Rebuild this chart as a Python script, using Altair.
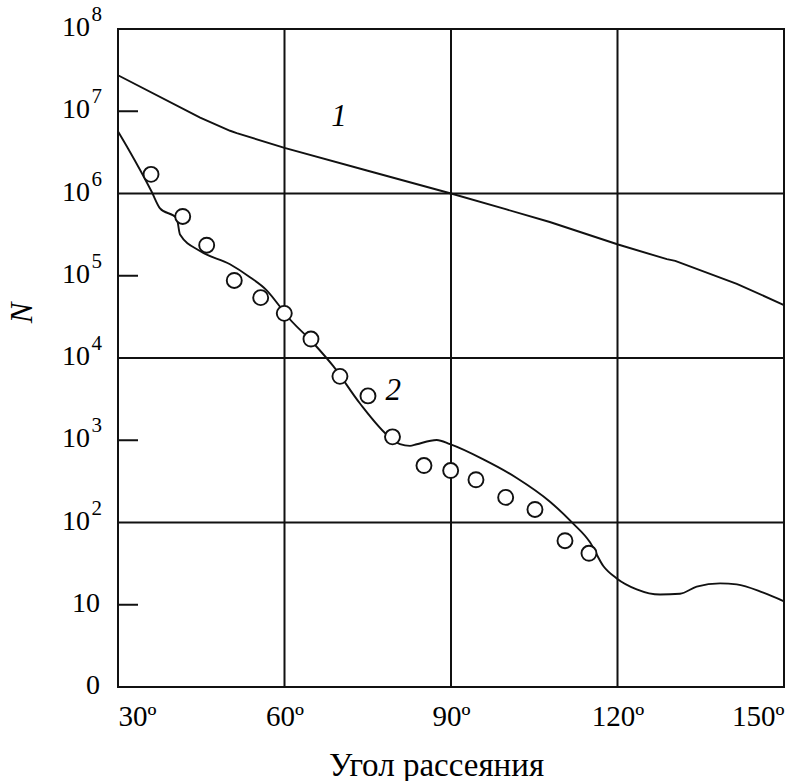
import altair as alt
import pandas as pd

FONT = "Liberation Serif, Times New Roman, serif"
INK = "#111111"

# Curve 1
c1_deg = [30.0, 44.8, 50.2, 51.4, 60.0, 75.0, 90.0, 100.0, 107.8, 120.1, 128.9, 130.4, 141.5, 150.0]
c1_n = [2.74e7, 8.39e6, 5.79e6, 5.43e6, 3.58e6, 1.89e6, 1.0e6, 6.4e5, 4.5e5, 2.40e5, 1.59e5, 1.52e5, 7.98e4, 4.40e4]

# Curve 2
c2_deg = [30.0, 31.86, 36.07, 37.57, 40.58, 41.17, 44.77, 50.18, 53.78, 56.79, 59.19, 60.09,
          65.19, 68.79, 73.60, 79.01, 80.81, 82.61, 83.82, 87.42, 89.82, 95.82, 101.84, 107.84,
          111.75, 115.05, 117.44, 119.86, 123.46, 127.66, 131.26, 134.27, 138.47, 141.48, 146.27, 150.0]
c2_n = [5.69e6, 3.48e6, 1.05e6, 6.6e5, 5.02e5, 3.17e5, 2.0e5, 1.38e5, 9.6e4, 6.65e4, 4.2e4, 3.48e4,
        1.52e4, 7.96e3, 2.80e3, 1.08e3, 895, 855, 895, 1005, 895, 585, 348, 179,
        101, 57.5, 29.6, 20.9, 15.4, 13.3, 13.6, 16.6, 18.2, 17.7, 14.0, 11.0]

# Measured points
pt_deg = [35.95, 41.66, 45.98, 50.95, 55.71, 59.96, 64.77, 69.99, 75.04, 79.46, 85.13, 89.94,
          94.50, 99.85, 105.13, 110.54, 114.86]
pt_n = [1.71e6, 5.26e5, 2.35e5, 8.77e4, 5.42e4, 3.49e4, 1.70e4, 5.98e3, 3.46e3, 1.10e3, 493, 428,
        331, 202, 144, 60.1, 42.2]

# Curve labels
lab_text = ["1", "2"]
lab_deg = [69.8, 79.6]
lab_n = [8.5e6, 4.0e3]

# Axes / grid
x_ticks = [30, 60, 90, 120, 150]
grid_x = [60, 90, 120]
grid_y = [1e2, 1e4, 1e6]
minor_y = [10, 1e3, 1e5, 1e7]
ytick_vals = [1, 10, 1e2, 1e3, 1e4, 1e5, 1e6, 1e7, 1e8]
ytick_base = ["0", "10", "10", "10", "10", "10", "10", "10", "10"]
ytick_exp = ["", "", "2", "3", "4", "5", "6", "7", "8"]

x_title = "Угол рассеяния"
y_title = "N"

xs = alt.Scale(domain=[30, 150], nice=False, zero=False)
ys = alt.Scale(type="log", domain=[1, 1e8], nice=False)

x_axis = alt.Axis(
    values=x_ticks, labelExpr="datum.value + 'º'", labelFlush=True,
    ticks=False, domain=False, grid=False,
    labelFont=FONT, labelFontSize=29, labelColor="black", labelPadding=15,
    title=x_title, titleFont=FONT, titleFontSize=33, titleFontWeight="normal",
    titleColor="black", titleX=318, titleY=88, titleBaseline="alphabetic",
    titleAlign="center")

df1 = pd.DataFrame({"deg": c1_deg, "n": c1_n})
df2 = pd.DataFrame({"deg": c2_deg, "n": c2_n})
dfp = pd.DataFrame({"deg": pt_deg, "n": pt_n})
dfl = pd.DataFrame({"deg": lab_deg, "n": lab_n, "t": lab_text})
dfgx = pd.DataFrame({"deg": grid_x})
dfgy = pd.DataFrame({"n": grid_y})
dfmy = pd.DataFrame({"n": minor_y})
dfyt = pd.DataFrame({"n": ytick_vals, "base": ytick_base, "exp": ytick_exp})

X = alt.X("deg:Q", scale=xs, axis=x_axis)
Y = alt.Y("n:Q", scale=ys, axis=None)

gx = alt.Chart(dfgx).mark_rule(color=INK, strokeWidth=2).encode(x=X)
gy = alt.Chart(dfgy).mark_rule(color=INK, strokeWidth=2).encode(y=Y)
my = alt.Chart(dfmy).mark_rule(color=INK, strokeWidth=2).encode(
    y=Y, x=alt.value(0), x2=alt.value(20))

line1 = alt.Chart(df1).mark_line(color=INK, strokeWidth=1.9).encode(x=X, y=Y)
line2 = alt.Chart(df2).mark_line(color=INK, strokeWidth=1.9, interpolate="monotone").encode(x=X, y=Y)

pts = alt.Chart(dfp).mark_point(shape="circle", filled=False, fill="white", fillOpacity=1,
                                 stroke=INK, strokeWidth=1.9, size=225, opacity=1).encode(x=X, y=Y)

labs = alt.Chart(dfl).mark_text(font=FONT, fontSize=31, fontStyle="italic", color="black",
                                align="center", baseline="middle").encode(x=X, y=Y, text="t:N")

ybase_exp = alt.Chart(dfyt).transform_filter("datum.exp != ''").mark_text(
    font=FONT, fontSize=28, color="black", align="right", baseline="middle", dy=-1).encode(
    y=Y, x=alt.value(-28), text="base:N")
ybase_plain = alt.Chart(dfyt).transform_filter("datum.exp == ''").mark_text(
    font=FONT, fontSize=28, color="black", align="right", baseline="middle", dy=-1).encode(
    y=Y, x=alt.value(-18), text="base:N")
yexp = alt.Chart(dfyt).transform_filter("datum.exp != ''").mark_text(
    font=FONT, fontSize=21, color="black", align="right", baseline="alphabetic", dy=-8).encode(
    y=Y, x=alt.value(-16), text="exp:N")

ytitle = alt.Chart(pd.DataFrame({"t": [y_title]})).mark_text(
    font=FONT, fontSize=31, fontStyle="italic", color="black", angle=270,
    align="center", baseline="middle").encode(
    x=alt.value(-95), y=alt.value(284), text="t:N")

chart = alt.layer(
    gx, gy, my, line1, line2, pts, labs, ybase_exp, ybase_plain, yexp, ytitle
).properties(
    width=666, height=658,
    autosize=alt.AutoSizeParams(type="none"),
    padding={"left": 118, "top": 29, "right": 5, "bottom": 94},
).configure_view(stroke=INK, strokeWidth=2)

chart.save("out.html", embed_options={"renderer": "svg", "actions": False})
